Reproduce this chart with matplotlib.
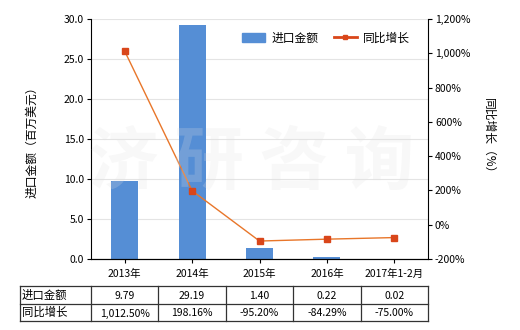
import matplotlib
matplotlib.use("Agg")
import matplotlib.pyplot as plt
from matplotlib.lines import Line2D
import numpy as np

plt.rcParams['font.family'] = ['Noto Sans CJK SC', 'DejaVu Sans']

categories = ['2013年', '2014年', '2015年', '2016年', '2017年1-2月']
import_values = [9.79, 29.19, 1.40, 0.22, 0.02]
growth_values = [1012.50, 198.16, -95.20, -84.29, -75.00]
import_labels = ['9.79', '29.19', '1.40', '0.22', '0.02']
growth_labels = ['1,012.50%', '198.16%', '-95.20%', '-84.29%', '-75.00%']
row_names = ['进口金额', '同比增长']

W, H = 520, 330
fig = plt.figure(figsize=(W/100, H/100), dpi=100)
L, R, T, B = 91, 428, 19, 259
ax = fig.add_axes([L/W, 1-B/H, (R-L)/W, (B-T)/H])
ax2 = ax.twinx()

x = np.arange(len(categories))
bar_color = '#558ED5'
ax.bar(x, import_values, width=0.4, color=bar_color, zorder=2, label='进口金额')
ax.set_ylim(0, 30)
ax.set_yticks(np.arange(0, 30.1, 5))
ax.set_yticklabels([f'{v:.1f}' for v in np.arange(0, 30.1, 5)])
ax.set_xlim(-0.5, len(categories)-0.5)
ax.set_xticks(x)
ax.set_xticklabels(categories)
ax.grid(axis='y', color='#e4e4e4', linewidth=0.8, zorder=0)
ax.set_axisbelow(True)

ax2.plot(x, growth_values, color='#E8762A', linewidth=1.0, marker='s', markersize=4,
         markerfacecolor='#D9461A', markeredgecolor='#D9461A', zorder=3, label='同比增长')
ax2.set_ylim(-200, 1200)
ax2.set_yticks(np.arange(-200, 1201, 200))
ax2.set_yticklabels([f'{v:,}%' for v in range(-200, 1201, 200)])

for a in (ax, ax2):
    a.spines['top'].set_visible(False)
    a.tick_params(labelsize=7.5, length=3, width=0.8, color='black', pad=2)
ax.spines['right'].set_visible(False)
ax2.spines['left'].set_visible(False)
ax.tick_params(axis='x', pad=4)

ax.set_ylabel('进口金额（百万美元）', fontsize=8.5, labelpad=18)
ax2.set_ylabel('同比增长（%）', fontsize=8.5, rotation=-90, labelpad=18)

# faint watermark
fig.text(252/W, 1-163/H, '济 研 咨 询', ha='center', va='center', fontsize=50,
         fontweight='bold', color='#e0e0e0', alpha=0.22, zorder=5)

handles = [plt.Rectangle((0, 0), 1, 1, color=bar_color),
           Line2D([0], [0], color='#D9461A', linewidth=2, marker='s', markersize=3)]
fig.legend(handles, ['进口金额', '同比增长'], loc='center', ncol=2,
           bbox_to_anchor=(326/W, 1-38/H), frameon=False, fontsize=8.5,
           handlelength=2.0, columnspacing=1.3, handletextpad=0.5)

# table
tL, tT, tM, tB = 20, 286, 304, 321
bounds = [tL] + [L + (R-L)*i/len(categories) for i in range(len(categories)+1)]
def fx(px): return px / W
def fy(py): return 1 - py / H
lw = 0.9
for yy in (tT, tM, tB):
    fig.add_artist(Line2D([fx(tL), fx(R)], [fy(yy), fy(yy)], color='#333333', linewidth=lw))
for xx in bounds:
    fig.add_artist(Line2D([fx(xx), fx(xx)], [fy(tT), fy(tB)], color='#333333', linewidth=lw))
rows = [import_labels, growth_labels]
for r, (name, vals) in enumerate(zip(row_names, rows)):
    yc = (tT + tM)/2 if r == 0 else (tM + tB)/2
    fig.text(fx(tL + 2), fy(yc), name, ha='left', va='center', fontsize=8.2)
    for i, v in enumerate(vals):
        xc = (bounds[i+1] + bounds[i+2]) / 2
        fig.text(fx(xc), fy(yc + 1), v, ha='center', va='center', fontsize=7.5)

fig.savefig('out.png', dpi=100)
